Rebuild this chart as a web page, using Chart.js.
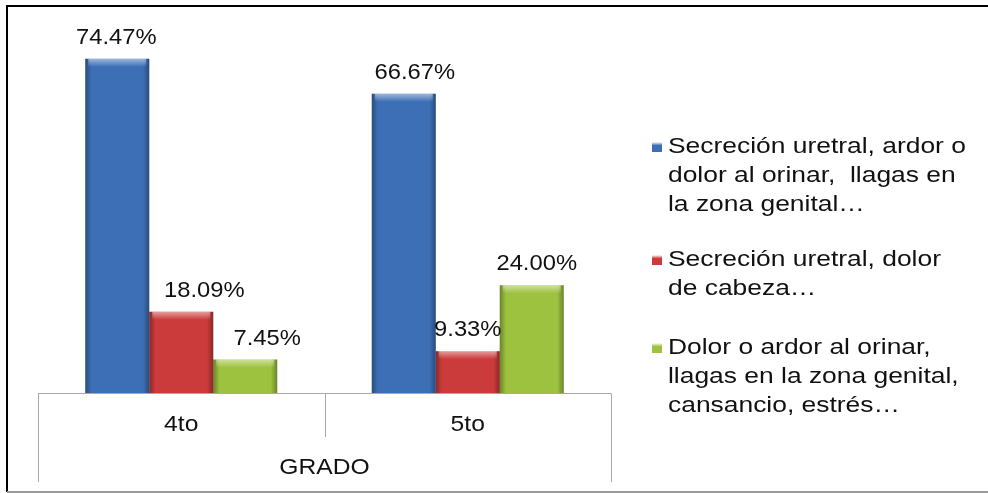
<!DOCTYPE html>
<html>
<head>
<meta charset="utf-8">
<script src="https://cdn.jsdelivr.net/npm/chart.js@4"></script>
<style>
  html, body { margin: 0; padding: 0; background: #fff; }
  #wrap { width: 988px; height: 493px; position: relative; }
</style>
</head>
<body>
<div id="wrap"><canvas id="chart" width="988" height="493"></canvas></div>
<script>
const categories = ["4to", "5to"];
const axisTitle = "GRADO";
const seriesNames = [
    ["Secreción uretral, ardor o", "dolor al orinar,  llagas en", "la zona genital…"],
    ["Secreción uretral, dolor", "de cabeza…"],
    ["Dolor o ardor al orinar,", "llagas en la zona genital,", "cansancio, estrés…"]
];
const seriesUretral = [74.47, 66.67];
const seriesCabeza = [18.09, 9.33];
const seriesDolor = [7.45, 24.00];

const colors = ["#3d6fb6", "#cc3b3b", "#9dc23f"];
const FONT = "22px 'Liberation Sans', Arial, sans-serif";
// small nudges so the value labels sit where the original put them
const labelShift = [[-1, 11], [23, 0], [22, 5]];
const legendTops = [147, 260, 348];

function stretchText(ctx, text, x, y, align, sx) {
    ctx.save();
    ctx.translate(x, y);
    ctx.scale(sx, 1);
    ctx.textAlign = align;
    ctx.fillText(text, 0, 0);
    ctx.restore();
}

const framePlugin = {
    id: "frame",
    beforeDraw(chart) {
        const ctx = chart.ctx;
        ctx.save();
        ctx.fillStyle = "#fff";
        ctx.fillRect(0, 0, chart.width, chart.height);
        ctx.restore();
    },
    afterDatasetsDraw(chart) {
        const ctx = chart.ctx;
        // bevel look on every bar
        chart.data.datasets.forEach((ds, i) => {
            chart.getDatasetMeta(i).data.forEach(bar => {
                const l = bar.x - bar.width / 2, r = bar.x + bar.width / 2;
                const t = bar.y, b = bar.base;
                ctx.save();
                let g = ctx.createLinearGradient(l, 0, r, 0);
                g.addColorStop(0, "rgba(0,0,0,0.32)");
                g.addColorStop(0.1, "rgba(0,0,0,0)");
                g.addColorStop(0.9, "rgba(0,0,0,0)");
                g.addColorStop(1, "rgba(0,0,0,0.32)");
                ctx.fillStyle = g;
                ctx.fillRect(l, t, r - l, b - t);
                g = ctx.createLinearGradient(0, t, 0, t + 8);
                g.addColorStop(0, "rgba(255,255,255,0.5)");
                g.addColorStop(1, "rgba(255,255,255,0)");
                ctx.fillStyle = g;
                ctx.fillRect(l + 3, t, r - l - 6, Math.min(8, b - t));
                ctx.restore();
            });
        });
    },
    afterDraw(chart) {
        const ctx = chart.ctx;
        const x = chart.scales.x;
        const area = chart.chartArea;
        ctx.save();

        // outer frame
        ctx.strokeStyle = "#000";
        ctx.lineWidth = 2;
        ctx.beginPath();
        ctx.moveTo(7, 492);
        ctx.lineTo(7, 6);
        ctx.lineTo(988, 6);
        ctx.stroke();
        ctx.strokeStyle = "#9a9a9a";
        ctx.beginPath();
        ctx.moveTo(7, 492);
        ctx.lineTo(988, 492);
        ctx.stroke();

        // category table under the bars
        ctx.strokeStyle = "#a8a8a8";
        ctx.lineWidth = 1;
        const base = Math.round(area.bottom) + 0.5;
        const half = (x.getPixelForValue(1) - x.getPixelForValue(0)) / 2;
        ctx.beginPath();
        ctx.moveTo(area.left, base);
        ctx.lineTo(area.right, base);
        ctx.moveTo(Math.round(area.left) + 0.5, base);
        ctx.lineTo(Math.round(area.left) + 0.5, 482);
        ctx.moveTo(Math.round(area.right) + 0.5, base);
        ctx.lineTo(Math.round(area.right) + 0.5, 482);
        for (let i = 0; i < categories.length - 1; i++) {
            const mx = Math.round(x.getPixelForValue(i) + half) + 0.5;
            ctx.moveTo(mx, base);
            ctx.lineTo(mx, 437);
        }
        ctx.stroke();

        ctx.fillStyle = "#111";
        ctx.font = FONT;
        ctx.textBaseline = "alphabetic";
        categories.forEach((c, i) => stretchText(ctx, c, x.getPixelForValue(i), 431, "center", 1.12));
        stretchText(ctx, axisTitle, (area.left + area.right) / 2, 474, "center", 1.12);

        // value labels
        chart.data.datasets.forEach((ds, i) => {
            chart.getDatasetMeta(i).data.forEach((bar, j) => {
                const txt = ds.data[j].toFixed(2) + "%";
                stretchText(ctx, txt, bar.x + labelShift[i][j], bar.y - 15, "center", 1.08);
            });
        });

        // legend
        chart.data.datasets.forEach((ds, i) => {
            const top = legendTops[i];
            const g = ctx.createLinearGradient(0, top - 5, 0, top + 5);
            g.addColorStop(0, "#fff");
            g.addColorStop(0.35, ds.backgroundColor);
            g.addColorStop(1, ds.backgroundColor);
            ctx.fillStyle = g;
            ctx.fillRect(652, top - 5, 10, 10);
            ctx.fillStyle = "#111";
            ctx.textBaseline = "middle";
            seriesNames[i].forEach((line, k) => {
                stretchText(ctx, line, 668, top + k * 29, "left", 1.2);
            });
        });
        ctx.restore();
    }
};

new Chart(document.getElementById("chart"), {
    type: "bar",
    data: {
        labels: categories,
        datasets: [
            { label: seriesNames[0].join(" "), data: seriesUretral, backgroundColor: colors[0] },
            { label: seriesNames[1].join(" "), data: seriesCabeza, backgroundColor: colors[1] },
            { label: seriesNames[2].join(" "), data: seriesDolor, backgroundColor: colors[2] }
        ]
    },
    options: {
        responsive: false,
        animation: false,
        layout: { padding: { left: 38, right: 377, top: 34, bottom: 100 } },
        datasets: { bar: { categoryPercentage: 0.67, barPercentage: 1.0, borderWidth: 0 } },
        scales: {
            x: { display: false },
            y: { display: false, min: 0, max: 80 }
        },
        plugins: {
            legend: { display: false },
            tooltip: { enabled: false }
        }
    },
    plugins: [framePlugin]
});
</script>
</body>
</html>
